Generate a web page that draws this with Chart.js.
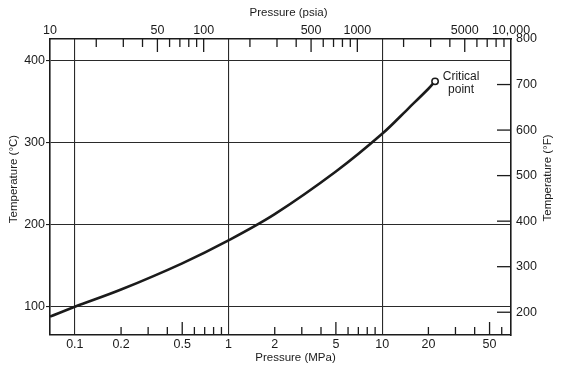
<!DOCTYPE html>
<html>
<head>
<meta charset="utf-8">
<script src="https://cdn.jsdelivr.net/npm/chart.js@4"></script>
<style>
  html, body { margin: 0; padding: 0; background: #fff; }
  #wrap { width: 579px; height: 368px; }
</style>
</head>
<body>
<div id="wrap"><canvas id="steamChart" width="579" height="368"></canvas></div>
<script>
// unit conversion between the two pressure axes
const PSIA_TO_MPA = 0.00689476;

// saturation curve (MPa, °C)
const pressureMPa = [0.069, 0.1, 0.2, 0.5, 1, 2, 5, 10, 15, 20, 22.1];
const satTempC    = [88, 100, 121, 153, 181, 213, 265, 311, 343, 366, 375];

// bottom axis (MPa)
const mpaLabels = [0.1, 0.2, 0.5, 1, 2, 5, 10, 20, 50];
const mpaGrid = [0.1, 1, 10];
const mpaShortTicks = [0.2, 0.3, 0.4, 0.6, 0.7, 0.8, 0.9, 2, 3, 4, 6, 7, 8, 9, 20, 30, 40, 60];
const mpaLongTicks = [0.5, 5, 50];

// top axis (psia)
const psiaLabels = [10, 50, 100, 500, 1000, 5000, 10000];
const psiaShortTicks = [20, 30, 40, 60, 70, 80, 90, 200, 300, 400, 600, 700, 800, 900,
                        2000, 3000, 4000, 6000, 7000, 8000, 9000];
const psiaLongTicks = [50, 100, 500, 1000, 5000];

// temperature axes
const tempCTicks = [100, 200, 300, 400];
const tempFTicks = [200, 300, 400, 500, 600, 700, 800];
const tempFRange = [150, 800];

const ink = '#1b1b1b';
const fontFamily = "'Liberation Sans', Arial, sans-serif";
Chart.defaults.font.family = fontFamily;
Chart.defaults.color = ink;

const fToC = f => (f - 32) / 1.8;
const lastIdx = pressureMPa.length - 1;

// 눈금, 축 제목, 임계점 표시
const extrasPlugin = {
    id: 'extras',
    afterDraw(chart) {
        const { ctx, chartArea: a, scales } = chart;
        ctx.save();
        ctx.strokeStyle = ink;
        ctx.lineWidth = 1.3;
        const line = (x1, y1, x2, y2) => {
            ctx.beginPath();
            ctx.moveTo(x1, y1);
            ctx.lineTo(x2, y2);
            ctx.stroke();
        };
        mpaShortTicks.forEach(v => { const x = scales.x.getPixelForValue(v); line(x, a.bottom, x, a.bottom - 8); });
        mpaLongTicks.forEach(v => { const x = scales.x.getPixelForValue(v); line(x, a.bottom, x, a.bottom - 13); });
        psiaShortTicks.forEach(v => { const x = scales.xTop.getPixelForValue(v); line(x, a.top, x, a.top + 8); });
        psiaLongTicks.forEach(v => { const x = scales.xTop.getPixelForValue(v); line(x, a.top, x, a.top + 13); });
        tempFTicks.slice(0, -1).forEach(v => { const y = scales.yF.getPixelForValue(v); line(a.right, y, a.right - 14, y); });

        ctx.fillStyle = ink;
        ctx.font = '11.5px ' + fontFamily;
        ctx.textAlign = 'center';
        ctx.textBaseline = 'middle';
        ctx.fillText('Pressure (psia)', (a.left + a.right) / 2 + 8, 13);
        ctx.fillText('Pressure (MPa)', (a.left + a.right) / 2 + 15, 358);

        ctx.save();
        ctx.translate(14, (a.top + a.bottom) / 2 - 8);
        ctx.rotate(-Math.PI / 2);
        ctx.fillText('Temperature (°C)', 0, 0);
        ctx.restore();
        ctx.save();
        ctx.translate(548, (a.top + a.bottom) / 2 - 9);
        ctx.rotate(-Math.PI / 2);
        ctx.fillText('Temperature (°F)', 0, 0);
        ctx.restore();

        // critical point label
        const px = scales.x.getPixelForValue(pressureMPa[lastIdx]);
        const py = scales.y.getPixelForValue(satTempC[lastIdx]);
        ctx.font = '12px ' + fontFamily;
        ctx.fillText('Critical', px + 26, py - 5);
        ctx.fillText('point', px + 26, py + 8);
        ctx.restore();
    }
};

const setTicks = values => scale => { scale.ticks = values.map(v => ({ value: v })); };
const border = { display: true, color: ink, width: 1.6 };

const ctx = document.getElementById('steamChart').getContext('2d');
new Chart(ctx, {
    type: 'line',
    data: {
        datasets: [{
            data: pressureMPa.map((p, i) => ({ x: p, y: satTempC[i] })),
            borderColor: ink,
            borderWidth: 2.6,
            tension: 0.35,
            fill: false,
            pointRadius: c => c.dataIndex === lastIdx ? 3.2 : 0,
            pointHoverRadius: 0,
            pointBackgroundColor: '#fff',
            pointBorderColor: ink,
            pointBorderWidth: 1.5
        }]
    },
    options: {
        responsive: false,
        animation: false,
        layout: { padding: 0 },
        plugins: { legend: { display: false }, tooltip: { enabled: false } },
        scales: {
            x: {
                type: 'logarithmic',
                position: 'bottom',
                min: 10 * PSIA_TO_MPA,
                max: 10000 * PSIA_TO_MPA,
                afterBuildTicks: setTicks(mpaLabels),
                afterFit: s => { s.height = 33; },
                border,
                grid: {
                    drawTicks: false,
                    lineWidth: 1.1,
                    color: c => (c.tick && mpaGrid.includes(c.tick.value)) ? '#2a2a2a' : 'rgba(0,0,0,0)'
                },
                ticks: {
                    autoSkip: false, maxRotation: 0, minRotation: 0, padding: 2,
                    font: { size: 12.5 },
                    callback: v => String(v)
                }
            },
            xTop: {
                type: 'logarithmic',
                position: 'top',
                min: 10,
                max: 10000,
                afterBuildTicks: setTicks(psiaLabels),
                afterFit: s => { s.height = 39; },
                border,
                grid: { drawOnChartArea: false, drawTicks: false },
                ticks: {
                    autoSkip: false, maxRotation: 0, minRotation: 0, padding: 1,
                    font: { size: 12.5 },
                    callback: v => v === 10000 ? '10,000' : String(v)
                }
            },
            y: {
                type: 'linear',
                position: 'left',
                min: fToC(tempFRange[0]),
                max: fToC(tempFRange[1]),
                afterBuildTicks: setTicks(tempCTicks),
                afterFit: s => { s.width = 50; },
                border,
                grid: { color: '#2a2a2a', lineWidth: 1.1, tickLength: 4, tickColor: ink },
                ticks: { padding: 1, font: { size: 12.5 } }
            },
            yF: {
                type: 'linear',
                position: 'right',
                min: tempFRange[0],
                max: tempFRange[1],
                afterBuildTicks: setTicks(tempFTicks),
                afterFit: s => { s.width = 68; },
                border,
                grid: { drawOnChartArea: false, drawTicks: false },
                ticks: { padding: 5, font: { size: 12.5 } }
            }
        }
    },
    plugins: [extrasPlugin]
});
</script>
</body>
</html>
